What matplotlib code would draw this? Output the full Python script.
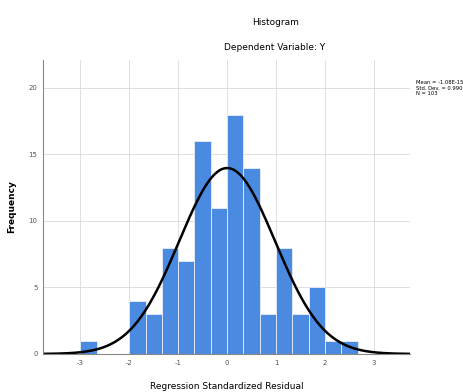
import numpy as np
import matplotlib.pyplot as plt

plt.rcParams["axes.unicode_minus"] = False

# residual histogram (bin width 1/3)
bin_left = -3.0
bin_width = 1.0 / 3.0
counts = [1, 0, 0, 4, 3, 8, 7, 16, 11, 18, 14, 3, 8, 3, 5, 1, 1]
resid_mean = 0.0
resid_sd = 0.98
x_ticks = [-3, -2, -1, 0, 1, 2, 3]
y_ticks = [0, 5, 10, 15, 20]
stats_text = "Mean = -1.08E-15\nStd. Dev. = 0.990\nN = 103"

edges = bin_left + bin_width * np.arange(len(counts))
n_total = sum(counts)

fig = plt.figure(figsize=(4.63, 3.92), dpi=100)
ax = fig.add_axes([0.093, 0.097, 0.793, 0.75])

ax.set_axisbelow(True)
ax.grid(True, color="#d9d9d9", linewidth=0.6)
ax.bar(edges, counts, width=bin_width, align="edge", color="#4a8ae0",
       edgecolor="#e8eefa", linewidth=0.6)

xs = np.linspace(-3.76, 3.74, 400)
pdf = np.exp(-0.5 * ((xs - resid_mean) / resid_sd) ** 2) / (resid_sd * np.sqrt(2 * np.pi))
ax.plot(xs, pdf * n_total * bin_width, color="black", linewidth=1.8)

ax.set_xlim(-3.76, 3.74)
ax.set_ylim(0, 22.1)
ax.set_xticks(x_ticks)
ax.set_yticks(y_ticks)
ax.tick_params(labelsize=5, colors="#555555", length=0, pad=4)
for s in ["top", "right"]:
    ax.spines[s].set_visible(False)
ax.spines["left"].set_color("#888888")
ax.spines["bottom"].set_color("#888888")

ax.set_ylabel("Frequency", fontsize=6.5, fontweight="bold", labelpad=9)
ax.set_xlabel("Regression Standardized Residual", fontsize=6.5, labelpad=12)

fig.text(0.595, 0.943, "Histogram", ha="center", va="center", fontsize=6.5)
fig.text(0.593, 0.88, "Dependent Variable: Y", ha="center", va="center", fontsize=6.5)
fig.text(0.898, 0.795, stats_text, ha="left", va="top", fontsize=3.8, linespacing=1.1)

fig.savefig("out.png", dpi=100)
